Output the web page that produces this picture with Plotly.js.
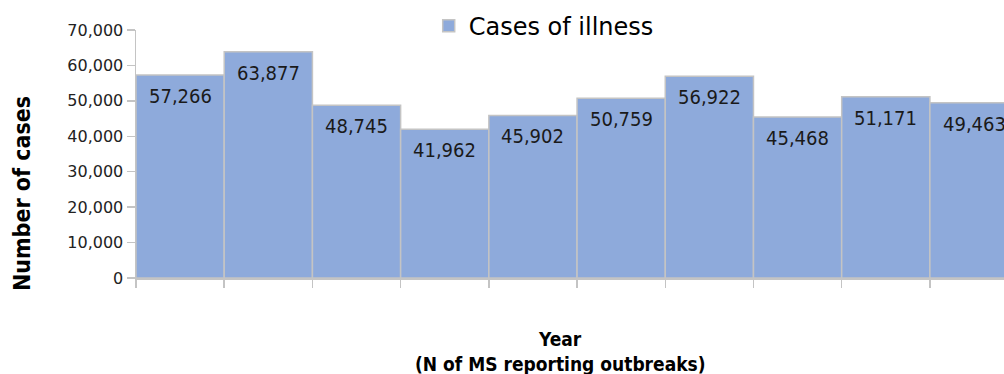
<!DOCTYPE html>
<html>
<head>
<meta charset="utf-8">
<script src="https://cdn.plot.ly/plotly-3.0.1.min.js"></script>
<style>html,body{margin:0;padding:0;background:#fff;}#chart{width:1004px;height:374px;}</style>
</head>
<body>
<div id="chart"></div>
<script>
const categories = ["Y1","Y2","Y3","Y4","Y5","Y6","Y7","Y8","Y9","Y10"];
const casesOfIllness = [57266, 63877, 48745, 41962, 45902, 50759, 56922, 45468, 51171, 49463];
const seriesName = "Cases of illness";
const yTickValues = [0, 10000, 20000, 30000, 40000, 50000, 60000, 70000];
const yTitle = "Number of cases";
const xTitleLine1 = "Year";
const xTitleLine2 = "(N of MS reporting outbreaks)";

const barColor = "#8eaadb";
const lineGray = "#c4c4c4";
const labelFont = "DejaVu Sans Condensed, DejaVu Sans, sans-serif";
const boldFont = "DejaVu Sans Condensed, DejaVu Sans, sans-serif";

const trace = {
  type: "bar",
  x: categories,
  y: casesOfIllness,
  name: seriesName,
  marker: {color: barColor, line: {color: lineGray, width: 1.5}},
  hoverinfo: "none",
  showlegend: true
};

const labelAnnotations = categories.map((c, i) => ({
  x: c, y: casesOfIllness[i], xref: "x", yref: "y",
  text: casesOfIllness[i].toLocaleString("en-US"),
  showarrow: false, yanchor: "middle", yshift: -21,
  font: {family: labelFont, size: 20, color: "#1a1a1a"}
}));

const titleAnnotations = [
  {x: -0.1313, y: 0.3387, xref: "paper", yref: "paper", text: "<b>" + yTitle + "</b>",
   textangle: -90, showarrow: false, xanchor: "center", yanchor: "middle",
   font: {family: boldFont, size: 23, color: "#000"}},
  {x: 0.4885, y: -0.246, xref: "paper", yref: "paper", text: "<b>" + xTitleLine1 + "</b>",
   showarrow: false, xanchor: "center", yanchor: "middle",
   font: {family: boldFont, size: 19, color: "#000"}},
  {x: 0.4885, y: -0.3468, xref: "paper", yref: "paper", text: "<b>" + xTitleLine2 + "</b>",
   showarrow: false, xanchor: "center", yanchor: "middle",
   font: {family: boldFont, size: 19, color: "#000"}}
];

const layout = {
  width: 1004, height: 374,
  margin: {l: 136, r: 0, t: 30, b: 96, pad: 0, autoexpand: false},
  paper_bgcolor: "#fff", plot_bgcolor: "#fff",
  bargap: 0,
  showlegend: true,
  legend: {
    orientation: "h", xref: "container", yref: "container",
    x: 0.427, y: 0.99, xanchor: "left", yanchor: "top",
    font: {family: "DejaVu Sans, sans-serif", size: 24, color: "#000"},
    bgcolor: "rgba(0,0,0,0)", itemwidth: 30
  },
  xaxis: {
    type: "category", range: [-0.5, 9.34],
    showticklabels: false, showgrid: false, zeroline: false,
    showline: true, linecolor: lineGray, linewidth: 1.5,
    ticks: "outside", tickson: "boundaries", ticklen: 8, tickcolor: lineGray, tickwidth: 1.5,
    fixedrange: true
  },
  yaxis: {
    range: [0, 70000], tickvals: yTickValues, tickformat: ",d",
    showgrid: false, zeroline: false,
    showline: true, linecolor: lineGray, linewidth: 1.5,
    ticks: "outside", ticklen: 8, tickcolor: lineGray, tickwidth: 1.5,
    tickfont: {family: "DejaVu Sans, sans-serif", size: 16, color: "#222"},
    fixedrange: true
  },
  annotations: labelAnnotations.concat(titleAnnotations)
};

Plotly.newPlot("chart", [trace], layout, {displayModeBar: false, staticPlot: true});
</script>
</body>
</html>
